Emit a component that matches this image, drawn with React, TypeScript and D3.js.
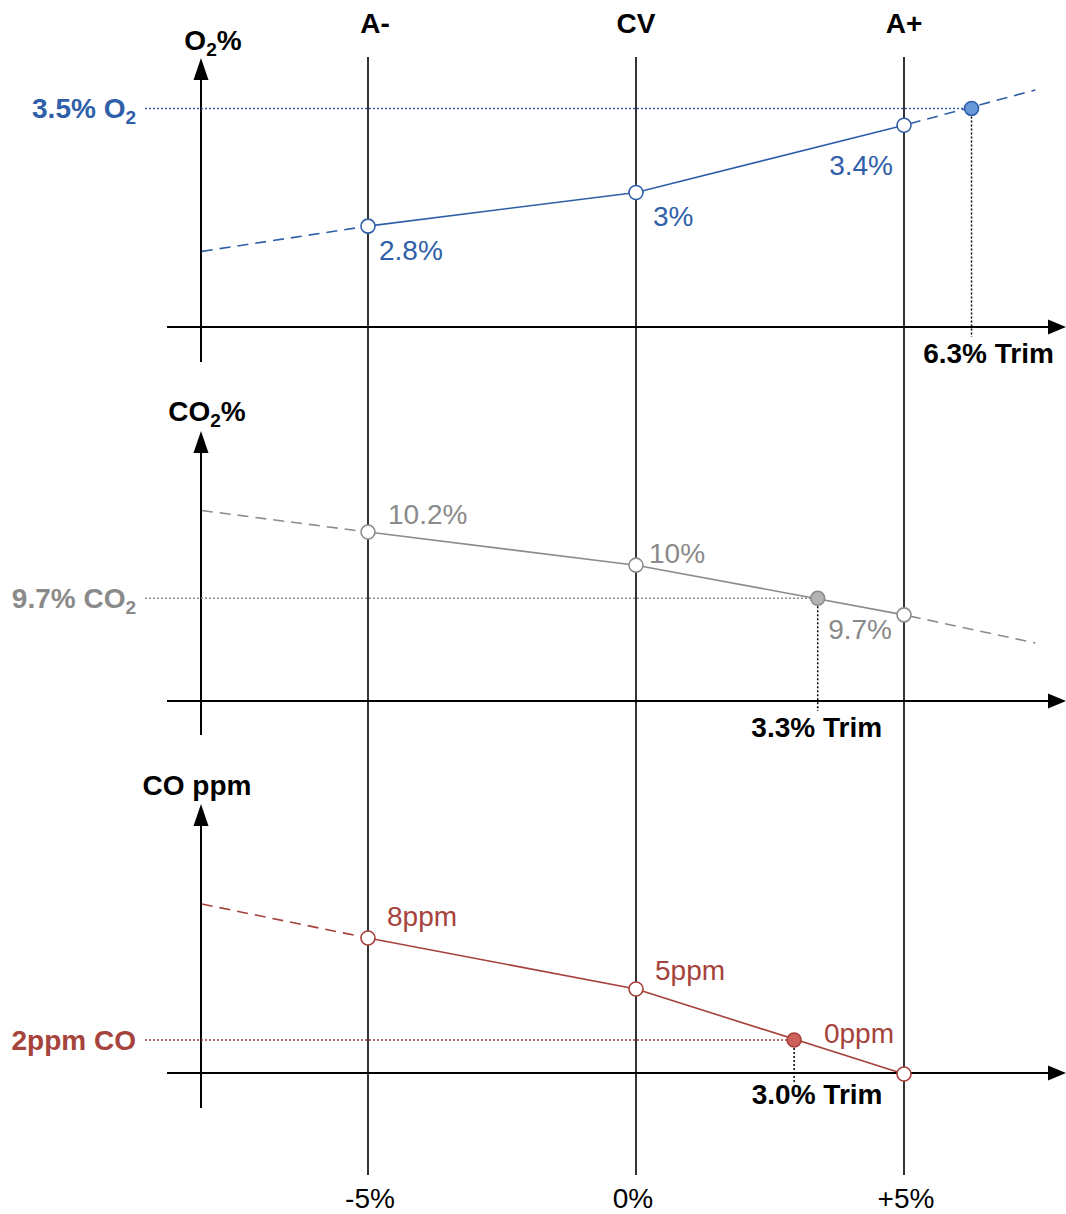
import React from "react";
import * as d3 from "d3";

// ---- data ----
const columnLabels = ["A-", "CV", "A+"];
const trimTicks = [-5, 0, 5];
const trimTickLabels = ["-5%", "0%", "+5%"];
const yAxisTrim = -8.1; // trim position of the vertical value axes
const rightExtTrim = 7.45;

const o2Values = [2.8, 3.0, 3.4];
const o2Labels = ["2.8%", "3%", "3.4%"];
const o2Ext = [2.65, 3.61]; // dashed extension values at yAxisTrim / rightExtTrim
const o2Target = { trim: 6.26, value: 3.5 };

const co2Values = [10.2, 10.0, 9.7];
const co2Labels = ["10.2%", "10%", "9.7%"];
const co2Ext = [10.33, 9.53];
const co2Target = { trim: 3.39, value: 9.8 };

const coValues = [8, 5, 0];
const coLabels = ["8ppm", "5ppm", "0ppm"];
const coExt = [10, null];
const coTarget = { trim: 2.95, value: 2 };

// ---- layout ----
const W = 1066, H = 1214;
const FONT = "'Liberation Sans', Arial, Helvetica, sans-serif";
const FS = 28;
const x = d3.scaleLinear().domain([-5, 5]).range([368, 904]);

type Panel = {
  key: string;
  values: number[];
  labels: string[];
  ext: (number | null)[];
  target: { trim: number; value: number };
  domain: [number, number];
  range: [number, number];
  axisY: number;
  axisBottom: number;
  arrowTop: number;
  color: string;
  text: string;
  fill: string;
  title: React.ReactNode;
  titleX: number;
  titleY: number;
  targetLabel: React.ReactNode;
  trimLabel: string;
  trimDx: number;
  trimDy: number;
  vlabel: { dx: number; dy: number; anchor: string }[];
};

const sub = (s: string) => (
  <tspan fontSize={19} dy={6}>{s}</tspan>
);

const panels: Panel[] = [
  {
    key: "o2",
    values: o2Values,
    labels: o2Labels,
    ext: o2Ext,
    target: o2Target,
    domain: [2.2, 3.8],
    range: [327, 58],
    axisY: 327,
    axisBottom: 362,
    arrowTop: 58,
    color: "#2f5fa8",
    text: "#2f5fa8",
    fill: "#6898d8",
    title: (<>O{sub("2")}<tspan dy={-6}>%</tspan></>),
    titleX: 213,
    titleY: 50,
    targetLabel: (<>3.5% O{sub("2")}</>),
    trimLabel: "6.3% Trim",
    trimDx: 17,
    trimDy: 36,
    vlabel: [
      { dx: 11, dy: 34, anchor: "start" },
      { dx: 17, dy: 33, anchor: "start" },
      { dx: -11, dy: 50, anchor: "end" },
    ],
  },
  {
    key: "co2",
    values: co2Values,
    labels: co2Labels,
    ext: co2Ext,
    target: co2Target,
    domain: [9.18, 10.81],
    range: [701, 431],
    axisY: 701,
    axisBottom: 735,
    arrowTop: 431,
    color: "#8c8c8c",
    text: "#8a8a8a",
    fill: "#b4b4b4",
    title: (<>CO{sub("2")}<tspan dy={-6}>%</tspan></>),
    titleX: 207,
    titleY: 421,
    targetLabel: (<>9.7% CO{sub("2")}</>),
    trimLabel: "3.3% Trim",
    trimDx: -1,
    trimDy: 36,
    vlabel: [
      { dx: 20, dy: -8, anchor: "start" },
      { dx: 13, dy: -2, anchor: "start" },
      { dx: -12, dy: 24, anchor: "end" },
    ],
  },
  {
    key: "co",
    values: coValues,
    labels: coLabels,
    ext: coExt,
    target: coTarget,
    domain: [0, 16],
    range: [1074, 802],
    axisY: 1073,
    axisBottom: 1108,
    arrowTop: 804,
    color: "#a5403a",
    text: "#a5433c",
    fill: "#cd625b",
    title: <>CO ppm</>,
    titleX: 197,
    titleY: 795,
    targetLabel: <>2ppm CO</>,
    trimLabel: "3.0% Trim",
    trimDx: 23,
    trimDy: 31,
    vlabel: [
      { dx: 19, dy: -12, anchor: "start" },
      { dx: 19, dy: -9, anchor: "start" },
      { dx: -10, dy: -31, anchor: "end" },
    ],
  },
];

const AXIS_X = 201;
const XAXIS_START = 167;
const XAXIS_END = 1066;

function PanelView({ p }: { p: Panel }) {
  return (
    <g>
      {/* y axis */}
      <line x1={AXIS_X} x2={AXIS_X} y1={p.arrowTop + 20} y2={p.axisBottom} stroke="#000" strokeWidth={2} />
      <path d={`M${AXIS_X},${p.arrowTop} L${AXIS_X + 7.5},${p.arrowTop + 22} L${AXIS_X - 7.5},${p.arrowTop + 22} Z`} fill="#000" />
      {/* x axis */}
      <line x1={XAXIS_START} x2={XAXIS_END - 16} y1={p.axisY} y2={p.axisY} stroke="#000" strokeWidth={2} />
      <path d={`M${XAXIS_END},${p.axisY} L${XAXIS_END - 18},${p.axisY - 7.5} L${XAXIS_END - 18},${p.axisY + 7.5} Z`} fill="#000" />
      {/* title */}
      <text x={p.titleX} y={p.titleY} textAnchor="middle" fontFamily={FONT} fontWeight="bold" fontSize={FS} fill="#000">{p.title}</text>
    </g>
  );
}

function PanelData({ p }: { p: Panel }) {
  const y = d3.scaleLinear().domain(p.domain).range(p.range);
  const pts: [number, number][] = p.values.map((v, i) => [x(trimTicks[i]), y(v)]);
  const line = d3.line();
  const tx = x(p.target.trim);
  const ty = y(p.target.value);
  return (
    <g>
      {/* dashed extensions */}
      {p.ext[0] != null && (
        <path d={line([[x(yAxisTrim), y(p.ext[0] as number)], pts[0]]) || ""} stroke={p.color} strokeWidth={1.6} fill="none" strokeDasharray="11,7" />
      )}
      {p.ext[1] != null && (
        <path d={line([pts[2], [x(rightExtTrim), y(p.ext[1] as number)]]) || ""} stroke={p.color} strokeWidth={1.6} fill="none" strokeDasharray="11,7" strokeDashoffset={-6} />
      )}
      {/* target guides */}
      <line x1={145} x2={tx} y1={ty} y2={ty} stroke={p.color} strokeWidth={1.5} strokeDasharray="2,2" />
      <line x1={tx} x2={tx} y1={ty} y2={p.axisY + 10} stroke="#000" strokeWidth={1.5} strokeDasharray="2,2" />
      {/* solid line */}
      <path d={line(pts) || ""} stroke={p.color} strokeWidth={1.6} fill="none" />
      {pts.map((pt, i) => (
        <circle key={i} cx={pt[0]} cy={pt[1]} r={7} fill="#fff" stroke={p.color} strokeWidth={1.6} />
      ))}
      <circle cx={tx} cy={ty} r={7} fill={p.fill} stroke={p.color} strokeWidth={1.6} />
      {/* value labels */}
      {pts.map((pt, i) => (
        <text key={i} x={pt[0] + p.vlabel[i].dx} y={pt[1] + p.vlabel[i].dy} textAnchor={p.vlabel[i].anchor as any} fontFamily={FONT} fontSize={FS} fill={p.text}>{p.labels[i]}</text>
      ))}
      {/* target label */}
      <text x={136} y={ty + 10} textAnchor="end" fontFamily={FONT} fontWeight="bold" fontSize={FS} fill={p.text}>{p.targetLabel}</text>
      <text x={tx + p.trimDx} y={p.axisY + p.trimDy} textAnchor="middle" fontFamily={FONT} fontWeight="bold" fontSize={FS} fill="#000">{p.trimLabel}</text>
    </g>
  );
}

export default function App() {
  return (
    <div style={{ position: "absolute", left: 0, top: 0 }}>
      <svg width={W} height={H} viewBox={`0 0 ${W} ${H}`} style={{ display: "block", background: "#fff" }}>
        <rect width={W} height={H} fill="#fff" />
        {/* vertical column lines */}
        {trimTicks.map((t, i) => (
          <line key={i} x1={x(t)} x2={x(t)} y1={57} y2={1175} stroke="#000" strokeWidth={1.6} />
        ))}
        {columnLabels.map((c, i) => (
          <text key={c} x={x(trimTicks[i]) + (i === 0 ? 7 : 0)} y={33} textAnchor="middle" fontFamily={FONT} fontWeight="bold" fontSize={FS} fill="#000">{c}</text>
        ))}
        {trimTickLabels.map((l, i) => (
          <text key={l} x={x(trimTicks[i]) + (i === 1 ? -3 : 2)} y={1208} textAnchor="middle" fontFamily={FONT} fontSize={FS} fill="#000">{l}</text>
        ))}
        {panels.map((p) => <PanelView key={p.key} p={p} />)}
        {panels.map((p) => <PanelData key={p.key + "d"} p={p} />)}
      </svg>
    </div>
  );
}
